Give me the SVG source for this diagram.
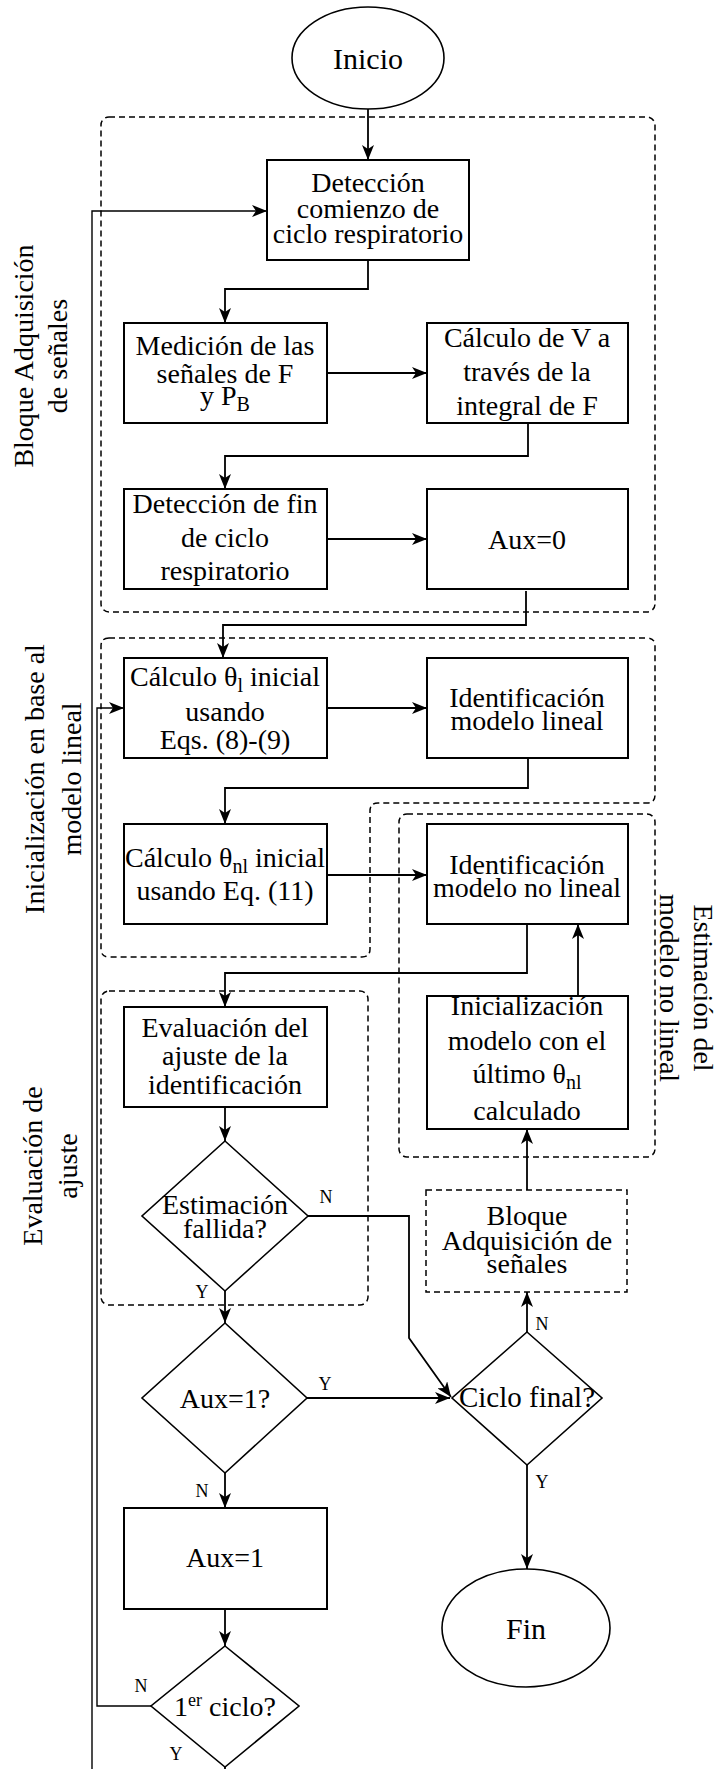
<svg xmlns="http://www.w3.org/2000/svg" width="718" height="1769" viewBox="0 0 718 1769">
<style>
.t{font-family:"Liberation Serif","Times New Roman",serif;font-size:28px;fill:#000;text-anchor:middle}
.lb{font-family:"Liberation Serif","Times New Roman",serif;font-size:18px;fill:#000;text-anchor:middle}
.box{fill:#fff;stroke:#000;stroke-width:2}
.shape{fill:#fff;stroke:#000;stroke-width:1.6}
.grp{fill:none;stroke:#000;stroke-width:1.5;stroke-dasharray:6 4}
.c{fill:none;stroke:#000;stroke-width:1.8}
.thin{fill:none;stroke:#000;stroke-width:1.4}
</style>
<defs>
<marker id="ah" viewBox="0 0 15 12" refX="15" refY="6" markerWidth="15" markerHeight="12" markerUnits="userSpaceOnUse" orient="auto">
<path d="M0,0 L15,6 L0,12 L4,6 z" fill="#000"/>
</marker>
</defs>

<g id="groups">
<rect id="grp-adquisicion" class="grp" x="101" y="117" width="554" height="495" rx="8"/>
<path id="grp-inicializacion" class="grp" d="M109,638 H647 Q655,638 655,646 V795 Q655,803 647,803 H378 Q370,803 370,811 V949 Q370,957 362,957 H109 Q101,957 101,949 V646 Q101,638 109,638 Z"/>
<rect id="grp-estimacion" class="grp" x="399" y="814" width="256" height="343" rx="8"/>
<rect id="grp-evaluacion" class="grp" x="101" y="991" width="267" height="314" rx="8"/>
</g>

<g id="side-labels">
<g transform="translate(0,356) rotate(-90)"><text class="t" x="0" y="33">Bloque Adquisición</text><text class="t" x="0" y="67">de señales</text></g>
<g transform="translate(0,779) rotate(-90)"><text class="t" x="0" y="44">Inicialización en base al</text><text class="t" x="0" y="81">modelo lineal</text></g>
<g transform="translate(0,1166) rotate(-90)"><text class="t" x="0" y="42">Evaluación de</text><text class="t" x="0" y="77">ajuste</text></g>
<g transform="translate(718,988) rotate(90)"><text class="t" x="0" y="24">Estimación del</text><text class="t" x="0" y="58">modelo no lineal</text></g>
</g>

<g id="connectors">
<path class="c" d="M368,109 V160" marker-end="url(#ah)"/>
<path class="c" d="M368,260 V289 H225 V323" marker-end="url(#ah)"/>
<path class="c" d="M327,373 H427" marker-end="url(#ah)"/>
<path class="c" d="M528,423 V456 H225 V489" marker-end="url(#ah)"/>
<path class="c" d="M327,539 H427" marker-end="url(#ah)"/>
<path class="c" d="M526,591 V625 H223 V658" marker-end="url(#ah)"/>
<path class="c" d="M327,708 H427" marker-end="url(#ah)"/>
<path class="c" d="M528,758 V788 H225 V824" marker-end="url(#ah)"/>
<path class="c" d="M327,875 H427" marker-end="url(#ah)"/>
<path class="c" d="M527,924 V973 H225 V1007" marker-end="url(#ah)"/>
<path class="c" d="M578,996 V924" marker-end="url(#ah)"/>
<path class="c" d="M527,1190 V1129" marker-end="url(#ah)"/>
<path class="c" d="M225,1107 V1141" marker-end="url(#ah)"/>
<path class="c" d="M308,1216 H409 V1338 L451,1397" marker-end="url(#ah)"/>
<path class="c" d="M225,1291 V1323" marker-end="url(#ah)"/>
<path class="c" d="M307,1398 H450" marker-end="url(#ah)"/>
<path class="c" d="M225,1473 V1508" marker-end="url(#ah)"/>
<path class="c" d="M527,1332 V1292" marker-end="url(#ah)"/>
<path class="c" d="M527,1465 V1569" marker-end="url(#ah)"/>
<path class="c" d="M225,1609 V1646" marker-end="url(#ah)"/>
<path class="thin" d="M151,1706 H97 V708 H124" marker-end="url(#ah)"/>
<path class="thin" d="M92,1769 V211 H267" marker-end="url(#ah)"/>
<path class="c" d="M225,1767 V1769"/>
<text class="lb" x="326" y="1203">N</text>
<text class="lb" x="202" y="1298">Y</text>
<text class="lb" x="325" y="1390">Y</text>
<text class="lb" x="202" y="1497">N</text>
<text class="lb" x="542" y="1330">N</text>
<text class="lb" x="542" y="1488">Y</text>
<text class="lb" x="141" y="1692">N</text>
<text class="lb" x="176" y="1760">Y</text>
</g>

<g id="inicio"><ellipse class="shape" cx="368" cy="58" rx="76" ry="51"/><text class="t" x="368" y="69" style="font-size:30px">Inicio</text></g>

<g id="deteccion-comienzo"><rect class="box" x="267" y="160" width="202" height="100"/>
<text class="t" x="368" y="192">Detección</text><text class="t" x="368" y="218">comienzo de</text><text class="t" x="368" y="243">ciclo respiratorio</text></g>

<g id="medicion"><rect class="box" x="124" y="323" width="203" height="100"/>
<text class="t" x="225" y="355">Medición de las</text><text class="t" x="225" y="383">señales de F</text><text class="t" x="225" y="405">y P<tspan style="font-size:20px" dy="6">B</tspan></text></g>

<g id="calculo-v"><rect class="box" x="427" y="323" width="201" height="100"/>
<text class="t" x="527" y="347">Cálculo de V a</text><text class="t" x="527" y="381">través de la</text><text class="t" x="527" y="415">integral de F</text></g>

<g id="deteccion-fin"><rect class="box" x="124" y="489" width="203" height="100"/>
<text class="t" x="225" y="513">Detección de fin</text><text class="t" x="225" y="547">de ciclo</text><text class="t" x="225" y="580">respiratorio</text></g>

<g id="aux0"><rect class="box" x="427" y="489" width="201" height="100"/>
<text class="t" x="527" y="549">Aux=0</text></g>

<g id="calculo-tl"><rect class="box" x="124" y="658" width="203" height="100"/>
<text class="t" x="225" y="686">Cálculo θ<tspan style="font-size:20px" dy="6">l</tspan><tspan dy="-6"> inicial</tspan></text>
<text class="t" x="225" y="721">usando</text><text class="t" x="225" y="749">Eqs. (8)-(9)</text></g>

<g id="ident-lineal"><rect class="box" x="427" y="658" width="201" height="100"/>
<text class="t" x="527" y="707">Identificación</text><text class="t" x="527" y="730">modelo lineal</text></g>

<g id="calculo-tnl"><rect class="box" x="124" y="824" width="203" height="100"/>
<text class="t" x="225" y="867">Cálculo θ<tspan style="font-size:20px" dy="6">nl</tspan><tspan dy="-6">  inicial</tspan></text>
<text class="t" x="225" y="900">usando Eq. (11)</text></g>

<g id="ident-no-lineal"><rect class="box" x="427" y="824" width="201" height="100"/>
<text class="t" x="527" y="874">Identificación</text><text class="t" x="527" y="897">modelo no lineal</text></g>

<g id="inicializacion-modelo"><rect class="box" x="427" y="996" width="201" height="133"/>
<text class="t" x="527" y="1015">Inicialización</text><text class="t" x="527" y="1050">modelo con el</text>
<text class="t" x="527" y="1083">último θ<tspan style="font-size:20px" dy="6">nl</tspan></text><text class="t" x="527" y="1120">calculado</text></g>

<g id="evaluacion"><rect class="box" x="124" y="1007" width="203" height="100"/>
<text class="t" x="225" y="1037">Evaluación del</text><text class="t" x="225" y="1065">ajuste de la</text><text class="t" x="225" y="1094">identificación</text></g>

<g id="estimacion-fallida"><path class="shape" d="M225,1141 L308,1216 L225,1291 L142,1216 Z"/>
<text class="t" x="225" y="1214">Estimación</text><text class="t" x="225" y="1238">fallida?</text></g>

<g id="bloque-adq"><rect class="grp" style="fill:#fff" x="426" y="1190" width="201" height="102"/>
<text class="t" x="527" y="1225">Bloque</text><text class="t" x="527" y="1250">Adquisición de</text><text class="t" x="527" y="1273">señales</text></g>

<g id="aux1q"><path class="shape" d="M225,1323 L307,1398 L225,1473 L142,1398 Z"/>
<text class="t" x="225" y="1408">Aux=1?</text></g>

<g id="ciclo-final"><path class="shape" d="M527,1332 L602,1398 L527,1465 L452,1398 Z"/>
<text class="t" x="527" y="1407" style="font-size:29px">Ciclo final?</text></g>

<g id="aux1"><rect class="box" x="124" y="1508" width="203" height="101"/>
<text class="t" x="225" y="1567">Aux=1</text></g>

<g id="fin"><ellipse class="shape" cx="526" cy="1628" rx="84" ry="59"/><text class="t" x="526" y="1639" style="font-size:30px">Fin</text></g>

<g id="primer-ciclo"><path class="shape" d="M225,1646 L299,1706 L225,1767 L151,1706 Z"/>
<text class="t" x="225" y="1716">1<tspan style="font-size:18px" dy="-10">er</tspan><tspan dy="10"> ciclo?</tspan></text></g>
</svg>
